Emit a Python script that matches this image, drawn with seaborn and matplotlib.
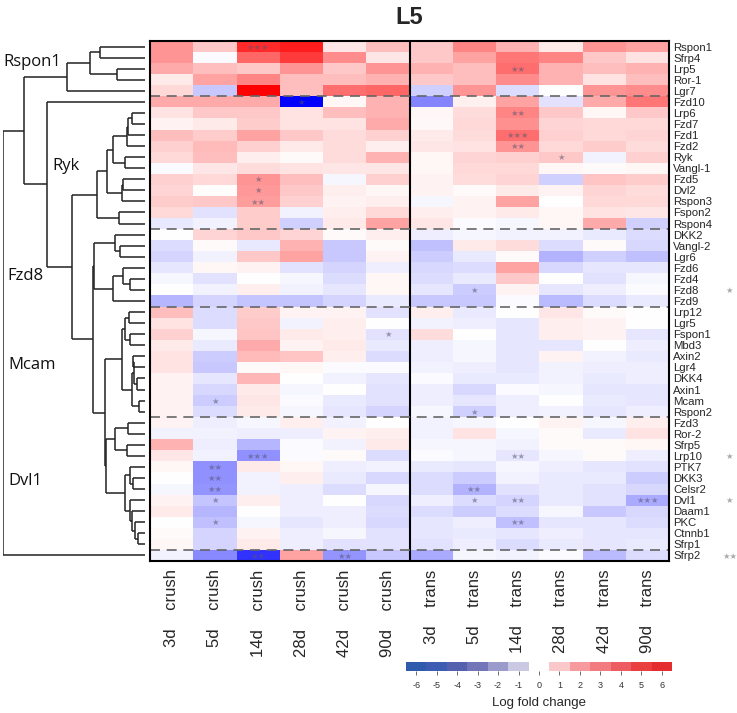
import numpy as np
import pandas as pd
import matplotlib
matplotlib.use("Agg")
import matplotlib.pyplot as plt
import seaborn as sns
from matplotlib.colors import ListedColormap

genes = ["Rspon1", "Sfrp4", "Lrp5", "Ror-1", "Lgr7", "Fzd10", "Lrp6", "Fzd7", "Fzd1", "Fzd2",
         "Ryk", "Vangl-1", "Fzd5", "Dvl2", "Rspon3", "Fspon2", "Rspon4", "DKK2", "Vangl-2", "Lgr6",
         "Fzd6", "Fzd4", "Fzd8", "Fzd9", "Lrp12", "Lgr5", "Fspon1", "Mbd3", "Axin2", "Lgr4",
         "DKK4", "Axin1", "Mcam", "Rspon2", "Fzd3", "Ror-2", "Sfrp5", "Lrp10", "PTK7", "DKK3",
         "Celsr2", "Dvl1", "Daam1", "PKC", "Ctnnb1", "Sfrp1", "Sfrp2"]

crush_cols = ["3d    crush", "5d    crush", "14d    crush", "28d    crush", "42d    crush", "90d    crush"]
trans_cols = ["3d    trans", "5d    trans", "14d    trans", "28d    trans", "42d    trans", "90d    trans"]

crush_lfc = [
    [2.5, 1.3, 5.0, 5.3, 0.6, 1.5], [2.5, -0.1, 3.6, 4.6, 2.7, 0.6], [2.0, 1.5, 1.3, 2.5, 1.3, 2.5],
    [0.5, 2.2, 2.9, 1.5, 1.5, 1.8], [0.9, -1.3, 6.0, 1.5, 3.4, 3.6], [2.0, 2.0, 2.0, -6.0, 0.2, 1.8],
    [0.7, 1.3, 1.3, 0.7, 1.5, 1.8], [0.3, 0.5, 1.2, 0.7, 0.7, 2.0], [1.5, 1.2, 2.2, 1.3, 0.8, 1.1],
    [1.1, 1.6, 1.1, 0.5, 0.8, 0.4], [0.9, 1.5, 0.4, 0.1, 0.8, 1.8], [-0.1, 0.6, 0.8, 0.7, 0.6, 0.6],
    [1.1, 0.9, 2.5, 1.5, -0.2, 1.1], [1.0, 0.05, 2.4, 1.3, 0.4, 0.2], [1.2, 1.3, 2.3, 1.1, 0.3, 0.4],
    [0.9, -0.7, 1.2, -0.3, 0.4, 0.9], [-0.55, -0.3, 1.2, -1.1, 0.5, 2.2], [0.0, 1.0, 1.3, 1.0, 0.1, 0.4],
    [-0.8, 0.1, -0.55, 1.8, -1.3, 0.1], [-1.0, -0.3, 1.3, 2.2, -1.3, 0.3], [-0.6, 0.2, 0.3, -0.7, -1.0, -0.4],
    [-0.2, -0.7, 0.0, -0.2, -0.8, 0.2], [0.0, -0.3, 0.4, -0.3, -0.6, 0.2], [-1.7, -1.0, -1.4, -1.4, -1.0, -0.5],
    [1.5, -0.8, 1.2, 0.3, 0.3, -0.7], [0.7, -0.8, 1.3, -0.3, 0.4, 0.0], [1.1, -0.2, 1.4, 0.5, 0.4, -0.7],
    [0.5, -0.5, 2.0, 0.3, 0.5, -0.5], [0.7, -1.2, 1.6, 1.4, 0.4, -0.8], [0.7, -1.3, 0.1, 0.2, -0.1, -0.1],
    [0.3, -0.6, 1.7, 0.0, -0.3, -0.6], [0.3, -0.9, 0.5, -0.2, 0.0, -0.7], [0.3, -1.2, 0.6, -0.1, -0.5, -0.7],
    [0.3, -0.8, 0.5, -0.2, -0.6, -1.0], [0.3, -0.4, -0.2, 0.4, -0.3, 0.0], [-0.3, -0.3, -0.4, -0.4, 0.3, 0.4],
    [1.8, -0.4, -1.7, -0.1, -0.3, 0.5], [0.6, -0.3, -2.6, -0.1, 0.1, -0.8], [0.2, -2.6, 0.5, 0.2, -0.4, -0.3],
    [0.0, -2.6, -0.3, 0.4, -0.5, -0.9], [-0.2, -2.5, -0.3, -0.4, -0.8, -0.2], [0.3, -1.4, 0.4, -0.4, 0.0, -0.9],
    [0.5, -1.7, 0.0, -0.4, -0.4, -0.8], [0.0, -1.5, -0.2, -0.6, -0.4, -0.9], [0.1, -1.0, 0.3, -0.4, -0.2, -0.7],
    [0.2, -1.0, 0.5, -0.4, -0.7, -0.7], [-0.3, -2.8, -4.8, 2.2, -2.5, -1.3],
]

trans_lfc = [
    [1.3, 2.9, 1.8, 0.5, 2.5, 2.2], [1.3, 2.2, 3.2, 2.9, 1.3, 0.7], [1.8, 1.5, 3.4, 1.8, 1.5, 1.8],
    [1.3, 1.5, 2.7, 1.8, 0.7, 1.5], [-1.1, 2.5, -0.8, 0.0, 2.5, 2.7], [-2.9, 0.35, 2.2, -0.7, 2.0, 3.2],
    [0.2, 0.8, 2.9, 1.3, 0.2, 1.3], [0.15, 0.9, 2.6, 1.0, 0.9, 0.9], [0.5, 0.8, 3.4, 1.1, 0.9, 1.0],
    [0.6, 0.7, 2.5, 0.9, 1.2, 0.8], [0.2, 1.0, 1.1, 1.3, -0.3, 1.1], [0.2, 0.9, 0.9, 0.2, 0.1, 0.2],
    [0.3, 0.8, 1.0, -1.1, 1.4, 1.2], [0.3, 0.1, 0.5, 0.3, 1.0, 0.8], [-0.2, 0.3, 2.2, 0.0, 0.9, 0.9],
    [0.4, 0.3, 0.5, 0.2, 0.7, 0.6], [0.6, -0.1, -0.2, 0.2, 2.0, -1.1], [-0.4, -0.2, -0.3, -0.3, -0.5, -0.8],
    [-1.5, 0.5, 0.8, -0.8, 0.1, -0.9], [-1.2, -0.5, 0.1, -1.8, -1.1, -1.5], [-0.9, -0.8, 2.2, -0.9, -0.6, -0.6],
    [-0.8, -0.5, 1.3, 0.0, -0.7, -0.2], [-0.6, -1.2, 0.3, -0.6, -0.4, -0.1], [-1.3, -1.3, -0.1, -1.6, -0.8, -0.5],
    [0.4, -0.5, 0.0, 0.6, 0.1, 0.0], [-0.3, -0.4, -0.6, 0.4, 0.3, 0.0], [0.8, 0.0, -0.6, 0.4, 0.3, -0.6],
    [-0.4, -0.2, -0.6, -0.6, 0.0, -0.4], [-0.4, -0.2, -0.6, 0.3, -0.3, -0.5], [-0.3, -0.4, -0.6, -0.3, -0.4, -0.4],
    [-0.1, -0.5, -0.5, -0.3, -0.5, -0.4], [-0.4, -0.9, -0.1, -0.2, -0.6, -0.6], [-0.4, -0.6, -0.4, 0.0, -0.5, -0.6],
    [-0.2, -1.1, -0.4, -0.3, -0.6, -0.4], [-0.3, -0.2, 0.0, 0.3, -0.2, 0.4], [-0.3, 0.7, -0.2, 0.1, -0.5, 0.7],
    [-0.2, -0.2, -0.3, 0.1, 0.1, 0.2], [-0.1, -0.2, -0.6, -0.2, 0.1, -0.4], [-0.5, -0.6, -0.2, -0.4, -0.6, -0.7],
    [-0.8, -1.2, -0.3, -0.5, -0.5, -1.2], [-0.8, -1.8, -0.7, -0.5, -0.7, -0.9], [-0.4, -0.8, -1.0, -0.5, -0.7, -2.0],
    [-0.8, -1.2, -0.8, -0.2, -1.3, -0.9], [-0.6, -0.4, -1.5, -0.6, -0.6, -0.8], [-0.6, -0.5, -0.6, -0.4, -0.6, -0.6],
    [-0.7, -0.4, -0.8, -0.5, -0.6, -0.5], [-2.0, -0.2, -0.3, -0.1, -1.6, -0.8],
]

# significance stars: (gene, column index, stars)
cell_stars = [("Rspon1", 2, "***"), ("Fzd10", 3, "*"), ("Fzd5", 2, "*"), ("Dvl2", 2, "*"),
              ("Rspon3", 2, "**"), ("Lrp5", 8, "**"), ("Lrp6", 8, "**"), ("Fzd1", 8, "***"),
              ("Fzd2", 8, "**"), ("Ryk", 9, "*"), ("Fzd8", 7, "*"), ("Fspon1", 5, "*"),
              ("Mcam", 1, "*"), ("Rspon2", 7, "*"), ("Lrp10", 2, "***"), ("Lrp10", 8, "**"),
              ("PTK7", 1, "**"), ("DKK3", 1, "**"), ("Celsr2", 1, "**"), ("Celsr2", 7, "**"),
              ("Dvl1", 1, "*"), ("Dvl1", 7, "*"), ("Dvl1", 8, "**"), ("Dvl1", 11, "***"),
              ("PKC", 1, "*"), ("PKC", 8, "**"), ("Sfrp2", 2, "**"), ("Sfrp2", 4, "**")]
row_stars = [("Fzd8", "*"), ("Lrp10", "*"), ("Dvl1", "*"), ("Sfrp2", "**")]

group_breaks = [5, 17, 24, 34, 46]
group_labels = [("Rspon1", 142, 1.9), ("Ryk", 93, 11.3), ("Fzd8", 138, 21.2),
                ("Mcam", 137, 29.3), ("Dvl1", 137, 39.8)]

# dendrogram merges: (node, left, right, height); ints are row indices
merges = [
    ("r01", 0, 1, 45), ("r23", 2, 3, 28), ("r03", "r01", "r23", 55), ("R", "r03", 4, 78),
    ("k1", 6, 7, 13), ("k2", "k1", 8, 17), ("k3", "k2", 9, 18), ("k4", 10, 11, 20),
    ("k5", "k3", "k4", 32), ("k6", 12, 13, 22), ("k7", "k6", 14, 23), ("k8", "k5", "k7", 38),
    ("k9", 15, 16, 26), ("D", "k8", "k9", 48),
    ("f1", 18, 19, 25), ("f2", 17, "f1", 30), ("f3", 21, 22, 15), ("f4", 20, "f3", 22),
    ("f5", "f4", 23, 32), ("F", "f2", "f5", 51),
    ("m1", 24, 25, 16), ("m2", 26, 27, 15), ("m3", "m1", "m2", 20), ("m4", 28, 29, 12),
    ("m5", 30, 31, 8), ("m6", "m4", "m5", 11), ("m7", 32, 33, 6), ("m8", "m6", "m7", 13),
    ("M", "m3", "m8", 23),
    ("d1", 34, 35, 17), ("d2", 36, 37, 18), ("d3", "d1", "d2", 30), ("d4", 39, 40, 12),
    ("d5", 38, "d4", 15), ("d6", 44, 45, 7), ("d7", 43, "d6", 10), ("d8", 42, "d7", 13),
    ("d9", 41, "d8", 15), ("d10", "d5", "d9", 20), ("V", "d3", "d10", 39),
    ("H", "M", "V", 40), ("G", "F", "H", 52), ("C", "D", "G", 73), ("B", 5, "C", 98),
    ("A", "R", "B", 121), ("root", "A", 46, 142),
]

cb_ticks = list(range(-6, 7))
cb_colors = ["#2F5BAC", "#3C5DB1", "#5361AF", "#7276B8", "#9A9BCB", "#C9C9E4", "#FFFFFF",
             "#FBC8CA", "#F69A9D", "#F17B7E", "#EC5C60", "#E9403F", "#E52D30"]

# ---- figure ----
sns.set_style("white")
plt.rcParams["font.family"] = ["Liberation Sans", "DejaVu Sans"]

W, H = 737, 713
fig = plt.figure(figsize=(W / 100, H / 100), dpi=100)
hx0, hx1, hy0, hy1 = 150, 669, 41, 561
ax = fig.add_axes([hx0 / W, 1 - hy1 / H, (hx1 - hx0) / W, (hy1 - hy0) / H])

df = pd.DataFrame(np.hstack([np.array(crush_lfc), np.array(trans_lfc)]),
                  index=genes, columns=crush_cols + trans_cols)
sns.heatmap(df, cmap="bwr", vmin=-6, vmax=6, cbar=False, ax=ax,
            xticklabels=True, yticklabels=True)
ax.yaxis.tick_right()
ax.set_yticklabels(genes, rotation=0, fontsize=8.2)
ax.set_xticklabels(df.columns, rotation=90, fontsize=12, va="top")
ax.tick_params(axis="both", length=0)
ax.tick_params(axis="y", pad=3)
ax.tick_params(axis="x", pad=6)
for s in ax.spines.values():
    s.set_visible(True)
    s.set_linewidth(1.5)
    s.set_color("black")
ax.axvline(6, color="black", lw=1.5)
ax.hlines(group_breaks, 0, 12, colors="#666666", lw=1.2, linestyles=(0, (6, 4)))

for gene, ci, st in cell_stars:
    ax.text(ci + 0.5, genes.index(gene) + 0.55, "\u2605" * len(st), ha="center", va="center",
            fontsize=6, color="#555570", alpha=0.55, family="DejaVu Sans")
for gene, st in row_stars:
    ax.text(13.4, genes.index(gene) + 0.55, "\u2605" * len(st), ha="center", va="center",
            fontsize=6, color="#aaaaaa", family="DejaVu Sans", clip_on=False)

# dendrogram
dax = fig.add_axes([3 / W, 1 - hy1 / H, 142 / W, (hy1 - hy0) / H])
pos = {i: i + 0.5 for i in range(len(genes))}
hgt = {i: 0.0 for i in range(len(genes))}
for name, a, b, h in merges:
    for c in (a, b):
        dax.plot([hgt[c], h], [pos[c], pos[c]], color="#222222", lw=1.1, solid_capstyle="butt")
    dax.plot([h, h], [pos[a], pos[b]], color="#222222", lw=1.1, solid_capstyle="butt")
    pos[name] = (pos[a] + pos[b]) / 2
    hgt[name] = h
dax.set_xlim(142.5, 0)
dax.set_ylim(len(genes), 0)
dax.axis("off")
for lab, hx, ry in group_labels:
    dax.text(hx, ry, lab, ha="left", va="center", fontsize=12, family="Open Sans", color="#111111")

fig.text((hx0 + hx1) / 2 / W, 1 - 18 / H, "L5", ha="center", va="center",
         fontsize=17, fontweight="bold")

# discrete colour key
cax = fig.add_axes([406 / W, 1 - 671 / H, 266 / W, 9 / H])
sns.heatmap(np.array([cb_ticks]), cmap=ListedColormap(cb_colors), vmin=-6.5, vmax=6.5,
            cbar=False, ax=cax, xticklabels=cb_ticks, yticklabels=False)
cax.tick_params(axis="x", length=3, width=0.6, color="#555555", labelsize=6.5,
                labelcolor="#333333", pad=4, bottom=True)
cax.set_xticklabels(cb_ticks, rotation=0)
cax.set_xlabel("Log fold change", fontsize=9.5, labelpad=5)

fig.savefig("out.png", dpi=100)
